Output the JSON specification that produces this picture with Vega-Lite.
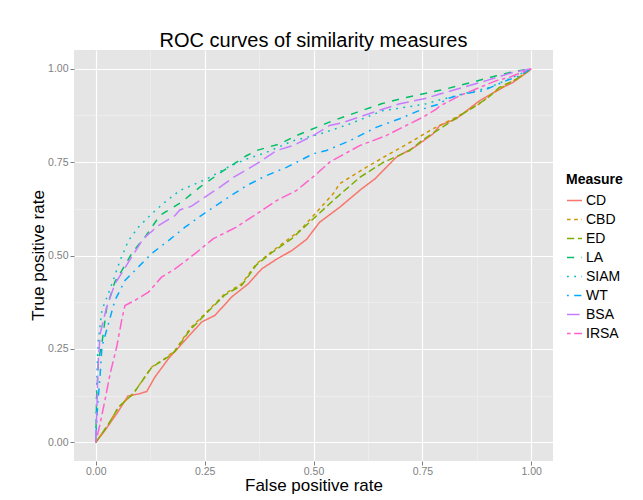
{
  "$schema": "https://vega.github.io/schema/vega-lite/v6.json",
  "autosize": "none",
  "padding": {"left": 74, "top": 50, "right": 90, "bottom": 39},
  "width": 479,
  "height": 411,
  "title": {"text": "ROC curves of similarity measures", "fontSize": 20, "fontWeight": "normal", "color": "black", "anchor": "middle", "frame": "group", "baseline": "bottom", "offset": 1, "dy": 22, "font": "Liberation Sans"},
  "config": {"font": "Liberation Sans", "view": {"fill": "#E5E5E5", "stroke": null}, "background": "white"},
  "data": {"values": [
    {"m":"CD","x":0,"y":0},{"m":"CD","x":0.02,"y":0.03},{"m":"CD","x":0.05,"y":0.08},{"m":"CD","x":0.074,"y":0.124},{"m":"CD","x":0.1,"y":0.13},{"m":"CD","x":0.117,"y":0.136},{"m":"CD","x":0.136,"y":0.175},{"m":"CD","x":0.167,"y":0.224},{"m":"CD","x":0.201,"y":0.268},{"m":"CD","x":0.243,"y":0.322},{"m":"CD","x":0.274,"y":0.34},{"m":"CD","x":0.312,"y":0.389},{"m":"CD","x":0.35,"y":0.424},{"m":"CD","x":0.381,"y":0.464},{"m":"CD","x":0.415,"y":0.49},{"m":"CD","x":0.45,"y":0.513},{"m":"CD","x":0.484,"y":0.543},{"m":"CD","x":0.514,"y":0.589},{"m":"CD","x":0.56,"y":0.629},{"m":"CD","x":0.61,"y":0.678},{"m":"CD","x":0.641,"y":0.705},{"m":"CD","x":0.69,"y":0.763},{"m":"CD","x":0.732,"y":0.79},{"m":"CD","x":0.774,"y":0.825},{"m":"CD","x":0.79,"y":0.848},{"m":"CD","x":0.828,"y":0.866},{"m":"CD","x":0.881,"y":0.914},{"m":"CD","x":0.935,"y":0.95},{"m":"CD","x":0.958,"y":0.963},{"m":"CD","x":0.996,"y":0.995},{"m":"CD","x":1,"y":1},
    {"m":"CBD","x":0,"y":0},{"m":"CBD","x":0.03,"y":0.05},{"m":"CBD","x":0.052,"y":0.094},{"m":"CBD","x":0.086,"y":0.13},{"m":"CBD","x":0.128,"y":0.201},{"m":"CBD","x":0.163,"y":0.228},{"m":"CBD","x":0.182,"y":0.246},{"m":"CBD","x":0.216,"y":0.304},{"m":"CBD","x":0.262,"y":0.357},{"m":"CBD","x":0.297,"y":0.398},{"m":"CBD","x":0.335,"y":0.424},{"m":"CBD","x":0.369,"y":0.478},{"m":"CBD","x":0.407,"y":0.513},{"m":"CBD","x":0.469,"y":0.567},{"m":"CBD","x":0.5,"y":0.607},{"m":"CBD","x":0.545,"y":0.665},{"m":"CBD","x":0.56,"y":0.692},{"m":"CBD","x":0.621,"y":0.736},{"m":"CBD","x":0.667,"y":0.767},{"m":"CBD","x":0.728,"y":0.807},{"m":"CBD","x":0.774,"y":0.839},{"m":"CBD","x":0.828,"y":0.87},{"m":"CBD","x":0.881,"y":0.906},{"m":"CBD","x":0.92,"y":0.941},{"m":"CBD","x":0.973,"y":0.977},{"m":"CBD","x":1,"y":1},
    {"m":"ED","x":0,"y":0},{"m":"ED","x":0.03,"y":0.05},{"m":"ED","x":0.052,"y":0.094},{"m":"ED","x":0.086,"y":0.13},{"m":"ED","x":0.128,"y":0.2},{"m":"ED","x":0.163,"y":0.226},{"m":"ED","x":0.182,"y":0.244},{"m":"ED","x":0.216,"y":0.3},{"m":"ED","x":0.262,"y":0.355},{"m":"ED","x":0.297,"y":0.395},{"m":"ED","x":0.335,"y":0.42},{"m":"ED","x":0.369,"y":0.475},{"m":"ED","x":0.407,"y":0.51},{"m":"ED","x":0.45,"y":0.545},{"m":"ED","x":0.491,"y":0.589},{"m":"ED","x":0.545,"y":0.647},{"m":"ED","x":0.606,"y":0.709},{"m":"ED","x":0.66,"y":0.749},{"m":"ED","x":0.721,"y":0.781},{"m":"ED","x":0.748,"y":0.807},{"m":"ED","x":0.79,"y":0.839},{"m":"ED","x":0.836,"y":0.874},{"m":"ED","x":0.897,"y":0.919},{"m":"ED","x":0.927,"y":0.95},{"m":"ED","x":0.966,"y":0.972},{"m":"ED","x":1,"y":1},
    {"m":"LA","x":0,"y":0},{"m":"LA","x":0.002,"y":0.121},{"m":"LA","x":0.006,"y":0.219},{"m":"LA","x":0.014,"y":0.264},{"m":"LA","x":0.025,"y":0.36},{"m":"LA","x":0.044,"y":0.43},{"m":"LA","x":0.06,"y":0.46},{"m":"LA","x":0.085,"y":0.51},{"m":"LA","x":0.113,"y":0.549},{"m":"LA","x":0.147,"y":0.607},{"m":"LA","x":0.197,"y":0.643},{"m":"LA","x":0.239,"y":0.683},{"m":"LA","x":0.293,"y":0.727},{"m":"LA","x":0.346,"y":0.767},{"m":"LA","x":0.369,"y":0.781},{"m":"LA","x":0.423,"y":0.799},{"m":"LA","x":0.461,"y":0.821},{"m":"LA","x":0.507,"y":0.843},{"m":"LA","x":0.545,"y":0.861},{"m":"LA","x":0.599,"y":0.883},{"m":"LA","x":0.656,"y":0.906},{"m":"LA","x":0.713,"y":0.923},{"m":"LA","x":0.774,"y":0.938},{"m":"LA","x":0.805,"y":0.946},{"m":"LA","x":0.862,"y":0.963},{"m":"LA","x":0.92,"y":0.981},{"m":"LA","x":0.958,"y":0.992},{"m":"LA","x":1,"y":1},
    {"m":"SIAM","x":0,"y":0},{"m":"SIAM","x":0.001,"y":0.08},{"m":"SIAM","x":0.003,"y":0.2},{"m":"SIAM","x":0.006,"y":0.273},{"m":"SIAM","x":0.014,"y":0.353},{"m":"SIAM","x":0.033,"y":0.411},{"m":"SIAM","x":0.056,"y":0.487},{"m":"SIAM","x":0.075,"y":0.54},{"m":"SIAM","x":0.098,"y":0.576},{"m":"SIAM","x":0.128,"y":0.611},{"m":"SIAM","x":0.159,"y":0.643},{"m":"SIAM","x":0.193,"y":0.674},{"m":"SIAM","x":0.255,"y":0.705},{"m":"SIAM","x":0.308,"y":0.739},{"m":"SIAM","x":0.346,"y":0.758},{"m":"SIAM","x":0.392,"y":0.776},{"m":"SIAM","x":0.453,"y":0.807},{"m":"SIAM","x":0.484,"y":0.816},{"m":"SIAM","x":0.514,"y":0.825},{"m":"SIAM","x":0.583,"y":0.852},{"m":"SIAM","x":0.66,"y":0.888},{"m":"SIAM","x":0.713,"y":0.897},{"m":"SIAM","x":0.759,"y":0.906},{"m":"SIAM","x":0.782,"y":0.914},{"m":"SIAM","x":0.828,"y":0.928},{"m":"SIAM","x":0.904,"y":0.95},{"m":"SIAM","x":0.966,"y":0.981},{"m":"SIAM","x":1,"y":1},
    {"m":"WT","x":0,"y":0},{"m":"WT","x":0.001,"y":0.032},{"m":"WT","x":0.004,"y":0.094},{"m":"WT","x":0.01,"y":0.18},{"m":"WT","x":0.014,"y":0.255},{"m":"WT","x":0.029,"y":0.317},{"m":"WT","x":0.044,"y":0.38},{"m":"WT","x":0.067,"y":0.433},{"m":"WT","x":0.09,"y":0.46},{"m":"WT","x":0.128,"y":0.505},{"m":"WT","x":0.167,"y":0.54},{"m":"WT","x":0.205,"y":0.576},{"m":"WT","x":0.247,"y":0.611},{"m":"WT","x":0.293,"y":0.647},{"m":"WT","x":0.346,"y":0.687},{"m":"WT","x":0.392,"y":0.714},{"m":"WT","x":0.438,"y":0.736},{"m":"WT","x":0.499,"y":0.772},{"m":"WT","x":0.53,"y":0.781},{"m":"WT","x":0.583,"y":0.807},{"m":"WT","x":0.644,"y":0.843},{"m":"WT","x":0.698,"y":0.866},{"m":"WT","x":0.751,"y":0.892},{"m":"WT","x":0.79,"y":0.906},{"m":"WT","x":0.805,"y":0.919},{"m":"WT","x":0.843,"y":0.932},{"m":"WT","x":0.889,"y":0.941},{"m":"WT","x":0.943,"y":0.968},{"m":"WT","x":0.973,"y":0.981},{"m":"WT","x":1,"y":1},
    {"m":"BSA","x":0,"y":0},{"m":"BSA","x":0.002,"y":0.07},{"m":"BSA","x":0.005,"y":0.2},{"m":"BSA","x":0.01,"y":0.29},{"m":"BSA","x":0.025,"y":0.362},{"m":"BSA","x":0.044,"y":0.424},{"m":"BSA","x":0.075,"y":0.482},{"m":"BSA","x":0.109,"y":0.545},{"m":"BSA","x":0.144,"y":0.58},{"m":"BSA","x":0.182,"y":0.607},{"m":"BSA","x":0.193,"y":0.622},{"m":"BSA","x":0.22,"y":0.632},{"m":"BSA","x":0.239,"y":0.647},{"m":"BSA","x":0.285,"y":0.683},{"m":"BSA","x":0.316,"y":0.709},{"m":"BSA","x":0.369,"y":0.745},{"m":"BSA","x":0.415,"y":0.781},{"m":"BSA","x":0.453,"y":0.794},{"m":"BSA","x":0.499,"y":0.821},{"m":"BSA","x":0.537,"y":0.848},{"m":"BSA","x":0.568,"y":0.856},{"m":"BSA","x":0.66,"y":0.892},{"m":"BSA","x":0.698,"y":0.906},{"m":"BSA","x":0.759,"y":0.921},{"m":"BSA","x":0.79,"y":0.932},{"m":"BSA","x":0.843,"y":0.95},{"m":"BSA","x":0.897,"y":0.968},{"m":"BSA","x":0.958,"y":0.99},{"m":"BSA","x":1,"y":1},
    {"m":"IRSA","x":0,"y":0},{"m":"IRSA","x":0.01,"y":0.05},{"m":"IRSA","x":0.021,"y":0.112},{"m":"IRSA","x":0.033,"y":0.184},{"m":"IRSA","x":0.048,"y":0.255},{"m":"IRSA","x":0.06,"y":0.33},{"m":"IRSA","x":0.067,"y":0.366},{"m":"IRSA","x":0.09,"y":0.38},{"m":"IRSA","x":0.121,"y":0.402},{"m":"IRSA","x":0.151,"y":0.442},{"m":"IRSA","x":0.182,"y":0.464},{"m":"IRSA","x":0.228,"y":0.505},{"m":"IRSA","x":0.27,"y":0.545},{"m":"IRSA","x":0.323,"y":0.576},{"m":"IRSA","x":0.369,"y":0.611},{"m":"IRSA","x":0.415,"y":0.647},{"m":"IRSA","x":0.461,"y":0.674},{"m":"IRSA","x":0.507,"y":0.718},{"m":"IRSA","x":0.537,"y":0.75},{"m":"IRSA","x":0.606,"y":0.794},{"m":"IRSA","x":0.667,"y":0.821},{"m":"IRSA","x":0.713,"y":0.848},{"m":"IRSA","x":0.751,"y":0.87},{"m":"IRSA","x":0.782,"y":0.892},{"m":"IRSA","x":0.79,"y":0.9},{"m":"IRSA","x":0.836,"y":0.928},{"m":"IRSA","x":0.92,"y":0.968},{"m":"IRSA","x":0.95,"y":0.977},{"m":"IRSA","x":1,"y":1}
  ]},
  "mark": {"type": "line", "strokeWidth": 1.5, "interpolate": "linear"},
  "encoding": {
    "x": {"field": "x", "type": "quantitative", "title": "False positive rate",
      "scale": {"domain": [-0.05, 1.05], "nice": false, "zero": false},
      "axis": {"domain": false, "values": [0,0.125,0.25,0.375,0.5,0.625,0.75,0.875,1], "labelExpr": "datum.value*4 % 1 != 0 ? '' : format(datum.value, '.2f')", "labelFlush": false, "labelOverlap": false,
        "gridColor": {"condition": {"test": "datum.value*4 % 1 != 0", "value": "#F2F2F2"}, "value": "#FFFFFF"},
        "gridWidth": {"condition": {"test": "datum.value*4 % 1 != 0", "value": 0.6}, "value": 1.2},
        "tickOpacity": {"condition": {"test": "datum.value*4 % 1 != 0", "value": 0}, "value": 1},
        "tickColor": "#7F7F7F", "tickSize": 4, "labelColor": "#7F7F7F", "labelFontSize": 10.5, "labelPadding": 1.5,
        "titleFontSize": 17, "titleFontWeight": "normal", "titleColor": "black", "titleY": 24, "titleBaseline": "middle"}},
    "y": {"field": "y", "type": "quantitative", "title": "True positive rate",
      "scale": {"domain": [-0.05, 1.05], "nice": false, "zero": false},
      "axis": {"domain": false, "values": [0,0.125,0.25,0.375,0.5,0.625,0.75,0.875,1], "labelExpr": "datum.value*4 % 1 != 0 ? '' : format(datum.value, '.2f')", "labelFlush": false, "labelOverlap": false,
        "gridColor": {"condition": {"test": "datum.value*4 % 1 != 0", "value": "#F2F2F2"}, "value": "#FFFFFF"},
        "gridWidth": {"condition": {"test": "datum.value*4 % 1 != 0", "value": 0.6}, "value": 1.2},
        "tickOpacity": {"condition": {"test": "datum.value*4 % 1 != 0", "value": 0}, "value": 1},
        "tickColor": "#7F7F7F", "tickSize": 4, "labelColor": "#7F7F7F", "labelFontSize": 10.5, "labelPadding": 2,
        "titleFontSize": 17, "titleFontWeight": "normal", "titleColor": "black", "titleX": -36, "titleY": 205, "titleBaseline": "middle", "titleAngle": -90}},
    "color": {"field": "m", "type": "nominal", "title": "Measure",
      "scale": {"domain": ["CD","CBD","ED","LA","SIAM","WT","BSA","IRSA"], "range": ["#F8766D","#CD9600","#7CAE00","#00BE67","#00BFC4","#00A9FF","#C77CFF","#FF61CC"]},
      "legend": {"orient": "none", "legendX": 492, "legendY": 123, "titleFontSize": 14, "titleFontWeight": "bold", "titleColor": "black", "titlePadding": 5, "labelFontSize": 14, "labelColor": "black", "labelOffset": 3, "symbolType": "stroke", "symbolSize": 225, "symbolStrokeWidth": 1.5, "rowPadding": 3}},
    "strokeDash": {"field": "m", "type": "nominal", "title": "Measure",
      "scale": {"domain": ["CD","CBD","ED","LA","SIAM","WT","BSA","IRSA"], "range": [[1,0],[3.6,3.6],[7.2,3.6],[7.2,7.2],[1.8,5.4],[1.8,5.4,7.2,5.4],[12.6,5.4],[3.6,3.6,10.8,3.6]]},
      "legend": {"orient": "none", "legendX": 492, "legendY": 123, "titleFontSize": 14, "titleFontWeight": "bold", "titleColor": "black", "titlePadding": 5, "labelFontSize": 14, "labelColor": "black", "labelOffset": 3, "symbolType": "stroke", "symbolSize": 225, "symbolStrokeWidth": 1.5, "rowPadding": 3}}
  }
}
